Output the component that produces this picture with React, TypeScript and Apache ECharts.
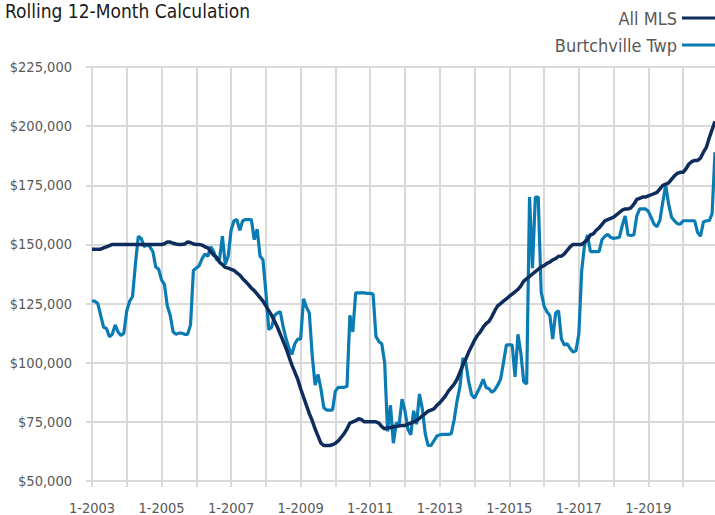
import React, { useEffect, useRef } from "react";
import * as echarts from "echarts";

// Values are in thousands of dollars (axis labels show full dollar amounts)
const startYear = 2003;
const endYear = 2020;

const categories: string[] = [];
for (let y = startYear; y <= endYear; y++) {
  for (let m = 1; m <= 12; m++) categories.push(`${m}-${y}`);
}

const allMLS = [
  // 2003
  148, 148, 148, 148, 148.5, 149, 149.5, 150, 150, 150, 150, 150,
  // 2004
  150, 150, 150, 150, 150, 150, 150, 150, 150, 150, 150, 150,
  // 2005
  150, 150.3, 151, 151, 150.5, 150.2, 150, 150, 150.2, 151, 150.8, 150.2,
  // 2006
  150, 150, 149.7, 149, 148.5, 147, 145.5, 144.5, 142.5, 141.5, 140.3, 140,
  // 2007
  139.5, 139, 138, 137, 135.5, 134.3, 133, 131.5, 130.5, 129, 127.5, 126,
  // 2008
  124, 122, 120, 117.5, 115, 112, 109, 106, 102.5, 99, 96, 93,
  // 2009
  89, 85.5, 82, 78.5, 75.5, 72, 69, 66, 65, 65, 65, 65.3,
  // 2010
  66, 67, 68.5, 70, 72, 74.5, 75, 75.5, 76.3, 76, 75, 75,
  // 2011
  75, 75, 75, 74.5, 73, 72, 72.5, 72.5, 73, 73, 73.3, 73.5,
  // 2012
  73.5, 74, 74.5, 75, 75.5, 76.5, 77.5, 78.5, 79.5, 80, 80.5, 82,
  // 2013
  83, 84.5, 86, 88, 89.5, 91, 93, 96, 99, 101.5, 104.5, 107,
  // 2014
  109.5, 111.5, 113, 115, 116.5, 117.5, 119.5, 122, 124, 125, 126, 127,
  // 2015
  128, 129, 130, 131, 132.5, 134.5, 135.5, 136.5, 137.5, 138.5, 139.5, 140.5,
  // 2016
  141, 142, 142.5, 143.5, 144, 145, 145, 146, 147.5, 149, 150, 150,
  // 2017
  150, 150, 151, 152, 154, 154.5, 156, 157, 158.5, 160, 160.5, 161,
  // 2018
  161.5, 162.5, 163.5, 164.5, 165, 165, 165.5, 167, 169, 169.5, 170, 170,
  // 2019
  170.5, 171, 171.5, 172, 173.5, 175, 175.5, 176, 177.5, 179, 180, 180.5,
  // 2020
  180.5, 182, 184, 185, 185.5, 185.5, 186.5, 189, 191, 195, 198.5, 202,
];

const burtchville = [
  // 2003
  126, 126, 125, 120, 115, 114.5, 111, 112, 116, 113, 111.5, 112.5,
  // 2004
  122, 126, 128, 142, 153.5, 152.5, 149, 150, 149, 147, 140.5, 139.5,
  // 2005
  135, 133, 124, 120, 113, 112, 112.5, 112.5, 112, 112, 116, 139,
  // 2006
  140, 141, 144, 146, 145, 149, 147, 143.5, 143.5, 153.5, 141.5, 145,
  // 2007
  156, 160, 160.5, 156, 160, 160.5, 160.5, 160.5, 152, 156.5, 145, 143.5,
  // 2008
  130, 114, 115, 120, 121, 121.5, 115, 110, 106, 103.5, 108, 110,
  // 2009
  110, 127, 123.5, 121, 103, 90.5, 95, 89, 81, 80, 80, 80,
  // 2010
  88, 89.6, 89.6, 89.6, 90, 120, 113, 129.5, 129.5, 129.5, 129.5, 129.3,
  // 2011
  129.3, 129, 111, 109, 108, 100, 71, 82, 66, 74.5, 74, 84.6,
  // 2012
  79.7, 72, 69.5, 79.7, 74, 86.8, 80.5, 70, 65, 65, 67, 69,
  // 2013
  69.5, 69.7, 69.7, 69.7, 70, 76, 84, 90, 102, 100, 92, 86.5,
  // 2014
  85, 87.5, 90, 93, 89.5, 89, 87.5, 88.5, 90.5, 93, 100, 107.5,
  // 2015
  107.5, 107.5, 94, 112, 104, 92, 91, 170, 140, 170, 170, 130,
  // 2016
  124, 121.5, 120, 110, 121, 122, 110, 107.5, 108, 106, 104.5, 105,
  // 2017
  112, 139, 150, 154, 147, 147, 147, 147, 152, 153.5, 154.2, 153,
  // 2018
  152.5, 152.8, 153, 158, 162, 154, 153.8, 154, 162, 165, 165, 165,
  // 2019
  164, 161.3, 158.5, 157.5, 160.3, 168, 175, 167, 161.5, 160, 158.8, 158.5,
  // 2020
  160, 160, 160, 160, 160, 155, 153.5, 159.5, 160, 160, 163, 189,
];

const yMin = 50;
const yMax = 225;
const yStep = 25;

const FONT = "'Liberation Sans Narrow', 'DejaVu Sans Condensed', 'Liberation Sans', sans-serif";
const GRID_COLOR = "#d9d9d9";
const TEXT_COLOR = "#595959";

export default function App() {
  const ref = useRef<HTMLDivElement>(null);

  useEffect(() => {
    document.body.style.margin = "0";
    if (!ref.current) return;
    const chart = echarts.init(ref.current, undefined, { renderer: "svg" });
    chart.setOption({
      animation: false,
      backgroundColor: "#ffffff",
      title: {
        text: "Rolling 12-Month Calculation",
        left: 0,
        top: -4,
        textStyle: { fontFamily: FONT, fontSize: 19, fontWeight: "normal", color: "#1a1a1a" },
      },
      legend: {
        data: ["All MLS", "Burtchville Twp"],
        orient: "vertical",
        right: -5,
        top: 4,
        align: "right",
        icon: "rect",
        itemWidth: 33,
        itemHeight: 3,
        itemGap: 9,
        textStyle: { fontFamily: FONT, fontSize: 18, color: TEXT_COLOR },
      },
      grid: { left: 92, right: 0, top: 67, bottom: 34 },
      xAxis: {
        type: "category",
        data: categories,
        boundaryGap: false,
        axisLine: { show: true, lineStyle: { color: GRID_COLOR, width: 2 } },
        axisTick: {
          show: true,
          length: 6,
          interval: (i: number) => i % 12 === 0,
          lineStyle: { color: GRID_COLOR, width: 2 },
        },
        axisLabel: {
          interval: (i: number) => i % 24 === 0,
          margin: 19,
          color: TEXT_COLOR,
          fontFamily: FONT,
          fontSize: 14.5,
        },
        splitLine: {
          show: true,
          interval: (i: number) => i % 12 === 0,
          lineStyle: { color: GRID_COLOR, width: 2 },
        },
      },
      yAxis: {
        type: "value",
        min: yMin,
        max: yMax,
        interval: yStep,
        axisLine: { show: false },
        axisTick: { show: true, length: 6, lineStyle: { color: GRID_COLOR, width: 2 } },
        axisLabel: {
          margin: 20,
          color: TEXT_COLOR,
          fontFamily: FONT,
          fontSize: 14.5,
          formatter: (v: number) => "$" + (v * 1000).toLocaleString("en-US"),
        },
        splitLine: { show: true, lineStyle: { color: GRID_COLOR, width: 2 } },
      },
      series: [
        {
          name: "All MLS",
          type: "line",
          data: allMLS,
          showSymbol: false,
          symbol: "none",
          lineStyle: { color: "#0e2d5c", width: 3.5 },
          itemStyle: { color: "#0e2d5c" },
          z: 3,
        },
        {
          name: "Burtchville Twp",
          type: "line",
          data: burtchville,
          showSymbol: false,
          symbol: "none",
          lineStyle: { color: "#0a7cb3", width: 3.2 },
          itemStyle: { color: "#0a7cb3" },
          z: 2,
        },
      ],
    });
    return () => chart.dispose();
  }, []);

  return <div ref={ref} style={{ width: 715, height: 515 }} />;
}
